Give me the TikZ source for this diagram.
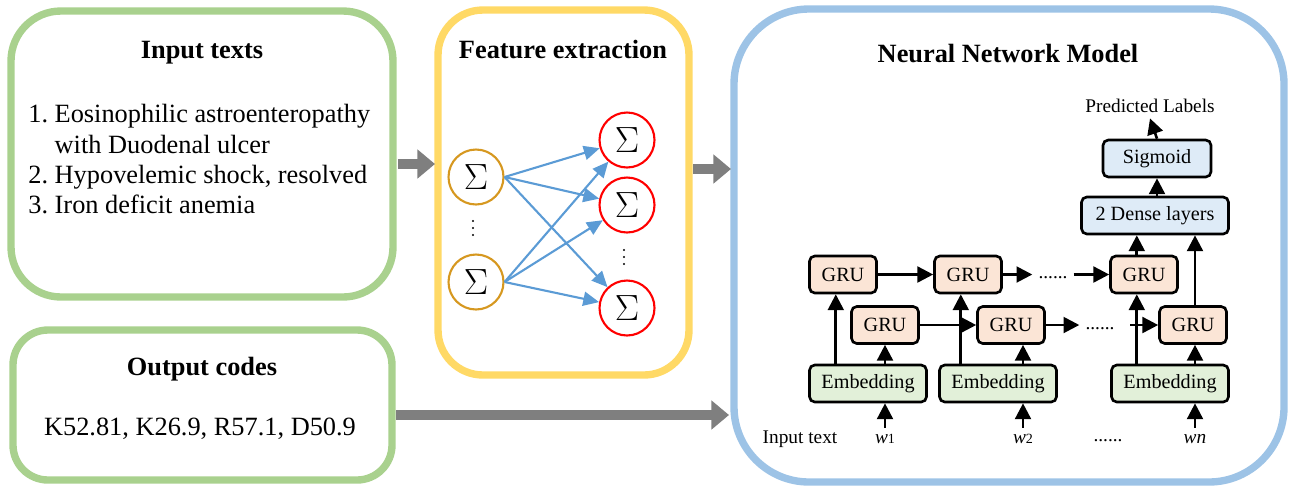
\documentclass[tikz,border=0pt]{standalone}
\usepackage{fontspec}
\setmainfont{Liberation Serif}
\usetikzlibrary{arrows.meta}
\definecolor{framegreen}{HTML}{A9D18E}
\definecolor{frameyellow}{HTML}{FFD966}
\definecolor{frameblue}{HTML}{9DC3E6}
\definecolor{arrowgray}{HTML}{7F7F7F}
\definecolor{sumorange}{RGB}{214,152,32}
\definecolor{linkblue}{HTML}{5B9BD5}
\definecolor{grufill}{HTML}{FBE5D6}
\definecolor{embfill}{HTML}{E2F0D9}
\definecolor{densefill}{HTML}{DEEBF7}
\begin{document}
\begin{tikzpicture}[x=0.02cm,y=-0.02cm,
    frame/.style={line width=4.2pt},
    title/.style={font=\fontsize{15}{18}\selectfont\bfseries,anchor=base},
    fat/.style={draw=arrowgray,line width=6pt,-{Triangle[length=10pt,width=16pt]}},
    sum/.style={circle,draw,line width=1.2pt,minimum size=1.1cm,inner sep=0pt,font=\fontsize{20}{20}\selectfont},
    link/.style={draw=linkblue,line width=1.2pt,-{Triangle[length=9pt,width=8pt]}},
    layer/.style={draw,line width=1.5pt,rounded corners=3pt,minimum height=0.74cm,inner sep=0pt,font=\fontsize{11.5}{13}\selectfont},
    gru/.style={layer,fill=grufill,minimum width=1.34cm},
    emb/.style={layer,fill=embfill,minimum width=2.34cm},
    dense/.style={layer,fill=densefill},
    flow/.style={line width=1.5pt,-{Triangle[length=9pt,width=9pt]}},
    small/.style={font=\fontsize{11}{13}\selectfont,anchor=base}]
  \useasboundingbox (0,0) rectangle (1290,488);

  % frames
  \draw[frame,draw=framegreen,rounded corners=1cm] (11,11) rectangle (393,297);
  \draw[frame,draw=framegreen,rounded corners=0.7cm] (13,330) rectangle (392,480);
  \draw[frame,draw=frameyellow,rounded corners=0.9cm] (438,10) rectangle (689,375);
  \draw[frame,draw=frameblue,rounded corners=1.5cm] (734,9) rectangle (1284,482);

  % left side
  \node[title] (intitle) at (202,58) {Input texts};
  \node[anchor=north west,inner sep=0pt,align=left,font=\fontsize{15}{17.3}\selectfont] (inlist) at (28,104)
    {1.~Eosinophilic astroenteropathy\\\phantom{1.~}with Duodenal ulcer\\2.~Hypovelemic shock, resolved\\3.~Iron deficit anemia};
  \node[title] (outtitle) at (202,375) {Output codes};
  \node[anchor=base,font=\fontsize{15}{18}\selectfont] (codes) at (200,435) {K52.81, K26.9, R57.1, D50.9};

  % feature extraction
  \node[title] (fetitle) at (563,58) {Feature extraction};
  \node[sum,draw=sumorange] (o1) at (476,177) {$\Sigma$};
  \node[sum,draw=sumorange] (o2) at (476,282) {$\Sigma$};
  \node[sum,draw=red] (r1) at (627,140) {$\Sigma$};
  \node[sum,draw=red] (r2) at (627,205) {$\Sigma$};
  \node[sum,draw=red] (r3) at (627,308) {$\Sigma$};
  \foreach \d in {-7,0,7} {
    \fill (473,228+\d) circle (0.6pt);
    \fill (624,257+\d) circle (0.6pt);
  }
  \foreach \s in {o1,o2}
    \foreach \t in {r1,r2,r3}
      \draw[link] (\s.east) -- (\t);

  % network model
  \node[title] (nntitle) at (1008,62) {Neural Network Model};
  \node[small] (pred) at (1150,112) {Predicted Labels};
  \node[dense,minimum width=2.16cm] (sig) at (1157,158.5) {Sigmoid};
  \node[dense,minimum width=2.94cm] (dns) at (1155,215.5) {2 Dense layers};
  \node[gru] (t1) at (843,274.5) {GRU};
  \node[gru] (t2) at (968,274.5) {GRU};
  \node[gru] (t3) at (1144,274.5) {GRU};
  \node[gru] (b1) at (885,325) {GRU};
  \node[gru] (b2) at (1011,325) {GRU};
  \node[gru] (b3) at (1193,325) {GRU};
  \node[emb] (e1) at (868,383.5) {Embedding};
  \node[emb] (e2) at (998,383.5) {Embedding};
  \node[emb] (e3) at (1170,383.5) {Embedding};
  \node[small] (dt) at (1053,278) {......};
  \node[small] (db) at (1100,329) {......};
  \node[small] (intext) at (800,443) {Input text};
  \node[small] (w1) at (885,443) {\textit{w}{\fontsize{8}{8}\selectfont 1}};
  \node[small] (w2) at (1023,443) {\textit{w}{\fontsize{8}{8}\selectfont 2}};
  \node[small] (dw) at (1108,441) {......};
  \node[small] (wn) at (1195,443) {\textit{wn}};

  \draw[flow] (sig.north) -- (pred.south);
  \draw[flow] (dns.north -| sig) -- (sig.south);
  \draw[flow] (t3.110) -- (t3.110 |- dns.south);
  \draw[flow] (b3.north -| wn) -- (dns.south -| wn);
  \draw[flow] (t1.east) -- (t2.west);
  \draw[flow] (t2.east) -- (t2.east -| dt.west);
  \draw[flow] (t3.west -| dt.east) -- (t3.west);
  \draw[flow] (b1.east) -- (b2.west);
  \draw[flow] (b2.east) -- (b2.east -| db.west);
  \draw[flow] (1130,325) -- (b3.west);
  \draw[flow] (e1.north -| t1.250) -- (t1.250);
  \draw[flow] (e2.north -| t2.250) -- (t2.250);
  \draw[flow] (e3.north -| t3.250) -- (t3.250);
  \draw[flow] (e1.north -| w1) -- (b1.south -| w1);
  \draw[flow] (e2.north -| w2) -- (b2.south -| w2);
  \draw[flow] (e3.north -| wn) -- (b3.south -| wn);
  \draw[flow] (w1.north) -- (e1.south -| w1);
  \draw[flow] (w2.north) -- (e2.south -| w2);
  \draw[flow] (wn.north) -- (e3.south -| wn);

  % main arrows
  \draw[fat] (398,164) -- (435,164);
  \draw[fat] (693,169) -- (731,169);
  \draw[fat] (396,415) -- (729,415);
\end{tikzpicture}
\end{document}
